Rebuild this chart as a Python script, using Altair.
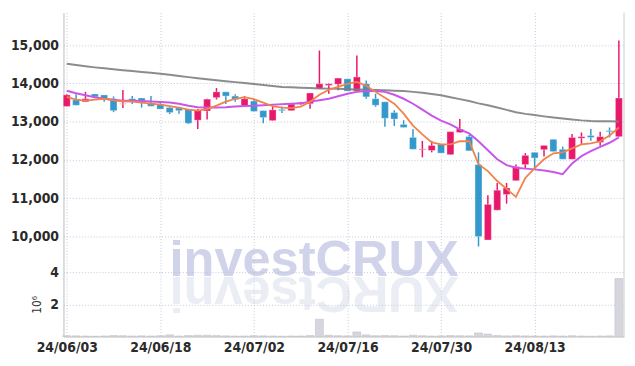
import altair as alt
import pandas as pd

dates = ["24/06/03", "24/06/04", "24/06/05", "24/06/07", "24/06/10", "24/06/11", "24/06/12", "24/06/13", "24/06/14", "24/06/17",
         "24/06/18", "24/06/19", "24/06/20", "24/06/21", "24/06/24", "24/06/25", "24/06/26", "24/06/27", "24/06/28", "24/07/01",
         "24/07/02", "24/07/03", "24/07/04", "24/07/05", "24/07/08", "24/07/09", "24/07/10", "24/07/11", "24/07/12", "24/07/15",
         "24/07/16", "24/07/17", "24/07/18", "24/07/19", "24/07/22", "24/07/23", "24/07/24", "24/07/25", "24/07/26", "24/07/29",
         "24/07/30", "24/07/31", "24/08/01", "24/08/02", "24/08/05", "24/08/06", "24/08/07", "24/08/08", "24/08/09", "24/08/12",
         "24/08/13", "24/08/14", "24/08/16", "24/08/19", "24/08/20", "24/08/21", "24/08/22", "24/08/23", "24/08/26", "24/08/27"]

opens = [13400, 13570, 13520, 13725, 13700, 13600, 13460, 13600, 13620, 13475,
         13460, 13370, 13360, 13330, 13040, 13280, 13630, 13780, 13670, 13420,
         13540, 13290, 13030, 13320, 13290, 13460, 13470, 13860, 13950, 13980,
         14120, 13800, 13990, 13600, 13520, 13240, 12930, 12590, 12270, 12250,
         12410, 12140, 12720, 12610, 11880, 9910, 10690, 11100, 11460, 11880,
         12200, 12270, 12540, 12280, 12020, 12570, 12640, 12460, 12770, 12610]
closes = [13700, 13430, 13600, 13650, 13600, 13290, 13470, 13520, 13540, 13405,
          13330, 13240, 13290, 12960, 13300, 13590, 13780, 13670, 13580, 13600,
          13270, 13110, 13310, 13290, 13460, 13500, 13750, 13990, 13990, 14140,
          13800, 14170, 13650, 13430, 13090, 13070, 12850, 12280, 12290, 12380,
          12180, 12740, 12810, 12240, 10000, 10840, 11210, 11270, 11830, 12120,
          12050, 12380, 12220, 12020, 12590, 12610, 12590, 12610, 12740, 13620]
highs = [13720, 13720, 13780, 13725, 13700, 13660, 13830, 13670, 13620, 13670,
         13540, 13380, 13360, 13330, 13330, 13600, 13880, 13780, 13720, 13670,
         13580, 13290, 13390, 13400, 13460, 13520, 13750, 14860, 14000, 14140,
         14120, 14730, 14080, 13730, 13520, 13300, 13040, 12810, 12500, 12500,
         12410, 12740, 13070, 12650, 12200, 11080, 11400, 11400, 11880, 12180,
         12200, 12380, 12540, 12350, 12680, 12720, 12810, 12740, 12850, 15120]
lows = [13400, 13430, 13520, 13640, 13520, 13250, 13360, 13460, 13370, 13405,
        13330, 13200, 13210, 12940, 12810, 13060, 13580, 13460, 13520, 13420,
        13270, 12960, 13030, 13230, 13290, 13440, 13340, 13860, 13730, 13820,
        13800, 13800, 13600, 13390, 12870, 12890, 12850, 12280, 12070, 12200,
        12180, 12140, 12720, 12240, 9740, 9910, 10690, 10860, 11460, 11790,
        11750, 12090, 12220, 12020, 12020, 12410, 12500, 12370, 12590, 12610]

ma_short = [13650, 13575, 13550, 13575, 13600, 13560, 13535, 13525, 13500, 13470,
            13445, 13405, 13370, 13315, 13290, 13330, 13420, 13525, 13600, 13640,
            13590, 13500, 13405, 13370, 13355, 13395, 13525, 13705, 13835, 13910,
            13990, 14040, 13940, 13780, 13625, 13470, 13210, 12900, 12670, 12460,
            12410, 12410, 12490, 12490, 11890, 11710, 11450, 11245, 11035, 11530,
            11790, 12020, 12175, 12200, 12305, 12410, 12435, 12490, 12640, 12850]
ma_mid = [13810, 13745, 13690, 13640, 13600, 13575, 13550, 13550, 13540, 13530,
          13515, 13500, 13470, 13420, 13380, 13370, 13370, 13380, 13400, 13410,
          13420, 13430, 13445, 13460, 13470, 13480, 13525, 13560, 13600, 13665,
          13730, 13780, 13800, 13800, 13780, 13705, 13600, 13470, 13315, 13160,
          13030, 12930, 12800, 12695, 12490, 12255, 12020, 11865, 11800, 11775,
          11755, 11725, 11685, 11630, 11910, 12100, 12230, 12345, 12450, 12590]
ma_long = [14515, 14480, 14450, 14420, 14395, 14370, 14345, 14325, 14300, 14280,
           14255, 14225, 14195, 14165, 14135, 14110, 14085, 14060, 14035, 14010,
           13985, 13960, 13935, 13910, 13900, 13890, 13880, 13870, 13865, 13860,
           13850, 13845, 13835, 13830, 13820, 13810, 13800, 13780, 13755, 13725,
           13690, 13640, 13590, 13540, 13480, 13430, 13370, 13310, 13250, 13205,
           13175, 13140, 13110, 13085, 13060, 13035, 13020, 13015, 13010, 13005]

volume_m = [0.05, 0.04, 0.03, 0.02, 0.03, 0.06, 0.05, 0.03, 0.04, 0.03,
            0.05, 0.10, 0.03, 0.06, 0.08, 0.08, 0.06, 0.04, 0.03, 0.03,
            0.05, 0.04, 0.03, 0.02, 0.03, 0.03, 0.06, 1.07, 0.08, 0.05,
            0.04, 0.28, 0.10, 0.05, 0.06, 0.05, 0.03, 0.08, 0.05, 0.03,
            0.04, 0.06, 0.05, 0.04, 0.22, 0.15, 0.06, 0.04, 0.05, 0.04,
            0.03, 0.03, 0.04, 0.03, 0.05, 0.03, 0.02, 0.03, 0.04, 3.60]

y_ticks = [10000, 11000, 12000, 13000, 14000, 15000]
x_tick_idx = [0, 10, 20, 30, 40, 50]

df = pd.DataFrame({
    "i": list(range(len(dates))), "date": dates,
    "open": opens, "close": closes, "high": highs, "low": lows,
    "ma_short": ma_short, "ma_mid": ma_mid, "ma_long": ma_long,
    "vol": volume_m,
})
df["dir"] = ["up" if c >= o else "down" for o, c in zip(opens, closes)]

W = 566
H_MAIN = 262
H_VOL = 65
FONT = "Liberation Sans Narrow, DejaVu Sans Condensed, Roboto, sans-serif"
GRID = "#c3c7dc"

label_expr = "[" + ",".join("'%s'" % d for d in dates) + "][datum.value]"
xscale = alt.Scale(domain=[-0.35, 59.55], nice=False, zero=False, padding=0)

x_main = alt.X("i:Q", scale=xscale,
               axis=alt.Axis(values=x_tick_idx, labels=False, ticks=False, domain=False,
                             grid=True, title=None))
yscale = alt.Scale(domain=[9070, 15850], nice=False, zero=False, padding=0)
y_axis = alt.Axis(values=y_ticks, labelExpr="format(datum.value, ',')", title=None,
                  ticks=False, grid=True, labelPadding=5)
color = alt.Color("dir:N", scale=alt.Scale(domain=["up", "down"], range=["#E8196B", "#3399CC"]),
                  legend=None)

base = alt.Chart(df)
wicks = base.mark_rule(strokeWidth=1.5).encode(
    x=x_main, y=alt.Y("low:Q", scale=yscale, axis=y_axis), y2="high:Q", color=color)
bodies = base.mark_bar(size=7, strokeWidth=0.6, strokeOpacity=0.5).encode(
    x=x_main, y=alt.Y("open:Q", scale=yscale), y2="close:Q", color=color,
    stroke=alt.value("#ffffff"))
line_long = base.mark_line(color="#7f7f7f", strokeWidth=2, opacity=0.9).encode(
    x=x_main, y=alt.Y("ma_long:Q", scale=yscale))
line_mid = base.mark_line(color="#C856E8", strokeWidth=2).encode(
    x=x_main, y=alt.Y("ma_mid:Q", scale=yscale))
line_short = base.mark_line(color="#F0824A", strokeWidth=1.8).encode(
    x=x_main, y=alt.Y("ma_short:Q", scale=yscale))
right_border = alt.Chart(pd.DataFrame({"k": [0]})).mark_rule(color="#cccccc", strokeWidth=1).encode(
    x=alt.value(W), y=alt.value(0), y2=alt.value(H_MAIN))

main = alt.layer(wicks, bodies, line_long, line_mid, line_short, right_border).properties(
    width=W, height=H_MAIN)

x_vol = alt.X("i:Q", scale=xscale,
              axis=alt.Axis(values=x_tick_idx, labelExpr=label_expr, ticks=False, domain=True,
                            grid=True, title=None, labelPadding=4))
vol_bars = base.mark_bar(size=8, color="#d6d6de", stroke="#c2c2ca", strokeWidth=0.6).encode(
    x=x_vol,
    y=alt.Y("vol:Q", scale=alt.Scale(domain=[0, 4], nice=False, padding=0),
            axis=alt.Axis(values=[2, 4], title="10⁶", ticks=False, grid=True, labelPadding=5,
                          titleFontWeight="normal", titleFontSize=12, titlePadding=6)))
wm = pd.DataFrame({"t": ["investCRUX"], "r": ["XURCtsevni"]})
watermark = alt.Chart(wm).mark_text(font="Liberation Sans, Arial, sans-serif", fontWeight="bold",
                                    fontSize=51, align="center", baseline="alphabetic",
                                    color="#b7bde0", opacity=0.65).encode(
    x=alt.value(253), y=alt.value(4), text="t:N")
reflection = alt.Chart(wm).mark_text(font="Liberation Sans, Arial, sans-serif", fontWeight="bold",
                                     fontSize=51, align="center", baseline="alphabetic", angle=180,
                                     color="#c8cce2", opacity=0.35).encode(
    x=alt.value(253), y=alt.value(5), text="r:N")
right_border_v = alt.Chart(pd.DataFrame({"k": [0]})).mark_rule(color="#cccccc", strokeWidth=1).encode(
    x=alt.value(W), y=alt.value(0), y2=alt.value(H_VOL))
volume = alt.layer(vol_bars, watermark, reflection, right_border_v).properties(width=W, height=H_VOL)

chart = alt.vconcat(main, volume, spacing=0, bounds="flush").properties(
    padding={"left": 2, "top": 2, "right": 2, "bottom": 2}
).configure_view(stroke=None).configure_axis(
    labelFont=FONT, labelFontSize=14, labelFontWeight="bold", labelColor="#2a2a2a",
    titleFont=FONT, titleColor="#333333",
    gridColor=GRID, gridDash=[1, 2], gridWidth=1, domainColor="#bbbbbb", domainWidth=1
)

chart.save("out.html", embed_options={"renderer": "svg", "actions": False})
